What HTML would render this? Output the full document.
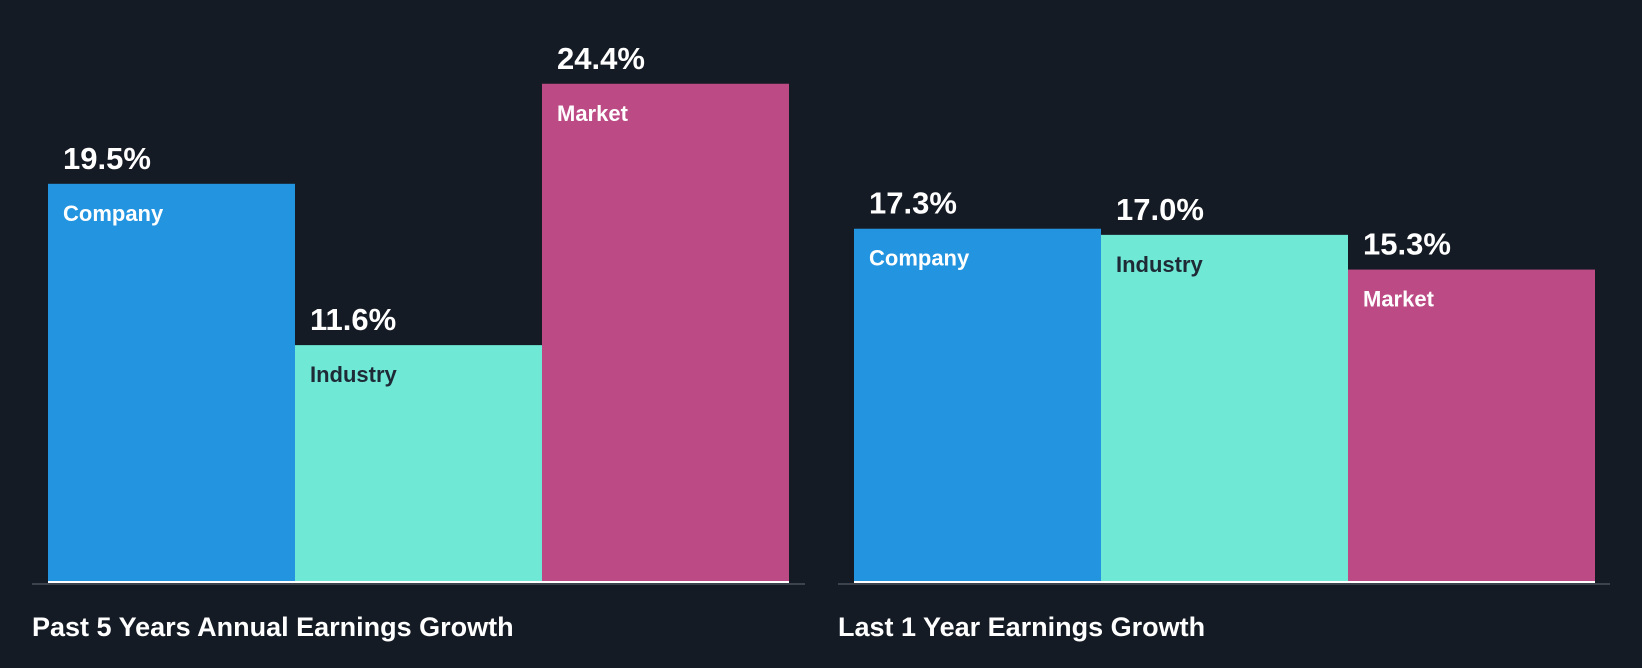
<!DOCTYPE html>
<html><head><meta charset="utf-8"><style>
html,body{margin:0;padding:0;background:#151b24;}
svg{display:block;font-family:"Liberation Sans",Arial,sans-serif;font-weight:bold;}
</style></head><body>
<svg id="chart" width="1642" height="668" viewBox="0 0 1642 668" xmlns="http://www.w3.org/2000/svg">
<rect width="1642" height="668" fill="#151b24"/>
<g id="plot"></g>
</svg>
<script>
const categories = ["Company", "Industry", "Market"];
const past5Values = [19.5, 11.6, 24.4];
const last1Values = [17.3, 17.0, 15.3];
const panelTitles = ["Past 5 Years Annual Earnings Growth", "Last 1 Year Earnings Growth"];

const colors = ["#2394df", "#70e8d6", "#bb4a85"];
const labelColors = ["#ffffff", "#1e2a36", "#ffffff"];
const baseY = 582, pxPerUnit = 20.42;
function yScale(v){ return baseY - v * pxPerUnit; }
const panels = [
  {x0: 48, barW: 247, axisX0: 32, axisX1: 805, values: past5Values, title: panelTitles[0], key: "past-5-years"},
  {x0: 854, barW: 247, axisX0: 838, axisX1: 1610, values: last1Values, title: panelTitles[1], key: "last-1-year"}
];
const NS = "http://www.w3.org/2000/svg";
const g = document.getElementById("plot");
function mk(tag, attrs, text){
  const e = document.createElementNS(NS, tag);
  for (const k in attrs) e.setAttribute(k, attrs[k]);
  if (text !== undefined) e.textContent = text;
  g.appendChild(e);
  return e;
}
panels.forEach(p => {
  p.values.forEach((v, i) => {
    const x = p.x0 + i * p.barW, y = yScale(v);
    const r = mk("rect", {x: x, y: y, width: p.barW, height: baseY - y, fill: colors[i]});
    
    
    const vl = mk("text", {x: x + 15, y: y - 15, fill: "#ffffff", "font-size": 31}, v.toFixed(1) + "%");
    
    
    const cl = mk("text", {x: x + 15, y: y + 37, fill: labelColors[i], "font-size": 22}, categories[i]);
    
    
  });
  const wl = mk("rect", {x: p.x0, y: baseY - 1, width: p.barW * 3, height: 2, fill: "#ffffff"});
  
  
  const ax = mk("rect", {x: p.axisX0, y: baseY + 1, width: p.axisX1 - p.axisX0, height: 2, fill: "#3d434c"});
  
  
  const t = mk("text", {x: p.axisX0, y: 636, fill: "#ffffff", "font-size": 27}, p.title);
  
  
});
</script>
</body></html>
